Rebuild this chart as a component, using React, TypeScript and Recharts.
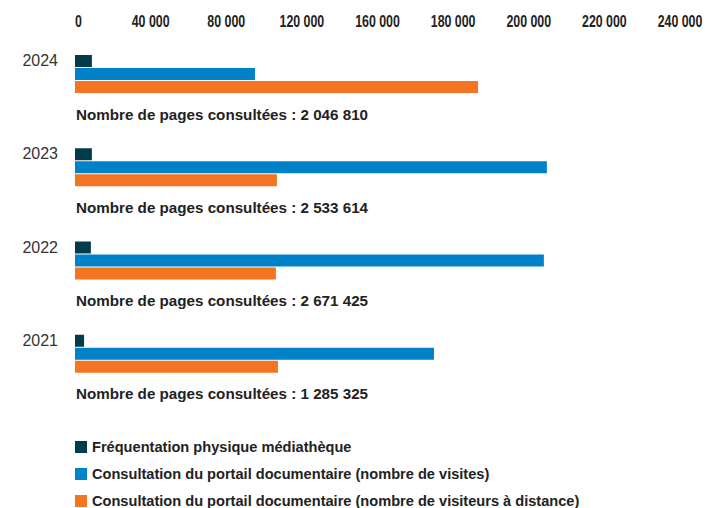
import React from "react";
import { BarChart, Bar, XAxis, YAxis, Legend } from "recharts";

const years = ["2024", "2023", "2022", "2021"];
const physique = [6700, 6700, 6300, 3600];
const visites = [71400, 187200, 186000, 142400];
const distance = [159900, 80100, 79700, 80500];
const pages = ["2 046 810", "2 533 614", "2 671 425", "1 285 325"];

const tickValues = [0, 30000, 60000, 90000, 120000, 150000, 180000, 210000, 240000];
const tickLabels = ["0", "40 000", "80 000", "120 000", "160 000", "180 000", "200 000", "220 000", "240 000"];

const seriesNames = [
  "Fréquentation physique médiathèque",
  "Consultation du portail documentaire (nombre de visites)",
  "Consultation du portail documentaire (nombre de visiteurs à distance)",
];
const colors = ["#023b4b", "#0082c8", "#f47521"];

const data = years.map((y, i) => ({
  year: y,
  physique: physique[i],
  visites: visites[i],
  distance: distance[i],
  pages: pages[i],
}));

const SANS = '"Liberation Sans", Arial, sans-serif';

const XTick = (props: any) => {
  const { x, payload, index } = props;
  return (
    <text
      transform={`translate(${x},27) scale(0.75,1)`}
      x={0}
      y={0}
      textAnchor={index === 0 ? "start" : "middle"}
      fontFamily={SANS}
      fontWeight="bold"
      fontSize={16.5}
      fill="#222"
    >
      {tickLabels[index] ?? payload.value}
    </text>
  );
};

const YTick = (props: any) => {
  const { y, payload, index } = props;
  return (
    <g>
      <text x={58} y={y - 7.5} textAnchor="end" fontFamily={SANS} fontSize={16} fill="#333">
        {payload.value}
      </text>
      <text x={76} y={y + 46} textAnchor="start" fontFamily={SANS} fontWeight="bold" fontSize={15.2} fill="#222">
        {`Nombre de pages consultées : ${pages[index]}`}
      </text>
    </g>
  );
};

const LegendContent = (props: any) => {
  const payload = [...(props.payload || [])].sort(
    (a: any, b: any) => seriesNames.indexOf(a.value) - seriesNames.indexOf(b.value)
  );
  return (
    <div>
      {payload.map((p: any, i: number) => (
        <div key={i} style={{ display: "flex", alignItems: "center", height: 27 }}>
          <span style={{ display: "inline-block", width: 12, height: 12, background: p.color, marginRight: 5 }} />
          <span style={{ fontFamily: SANS, fontWeight: "bold", fontSize: 14.6, color: "#222", whiteSpace: "nowrap" }}>
            {p.value}
          </span>
        </div>
      ))}
    </div>
  );
};

export default function App() {
  return (
    <div style={{ position: "absolute", left: 0, top: 0, width: 705, height: 508, background: "#fff" }}>
      <BarChart
        width={705}
        height={508}
        data={data}
        layout="vertical"
        margin={{ top: 0, right: 25, bottom: 108, left: 0 }}
        barSize={12}
        barGap={1}
      >
        <XAxis
          type="number"
          orientation="top"
          domain={[0, 240000]}
          ticks={tickValues}
          height={27}
          axisLine={false}
          tickLine={false}
          tick={<XTick />}
          interval={0}
        />
        <YAxis
          type="category"
          dataKey="year"
          width={75}
          axisLine={false}
          tickLine={false}
          tick={<YTick />}
          interval={0}
        />
        <Legend
          layout="horizontal"
          verticalAlign="middle"
          align="center"
          content={<LegendContent />}
          wrapperStyle={{ position: "absolute", top: 433, left: 75, width: 600 }}
        />
        <Bar dataKey="physique" name={seriesNames[0]} fill={colors[0]} isAnimationActive={false} />
        <Bar dataKey="visites" name={seriesNames[1]} fill={colors[1]} isAnimationActive={false} />
        <Bar dataKey="distance" name={seriesNames[2]} fill={colors[2]} isAnimationActive={false} />
      </BarChart>
    </div>
  );
}
